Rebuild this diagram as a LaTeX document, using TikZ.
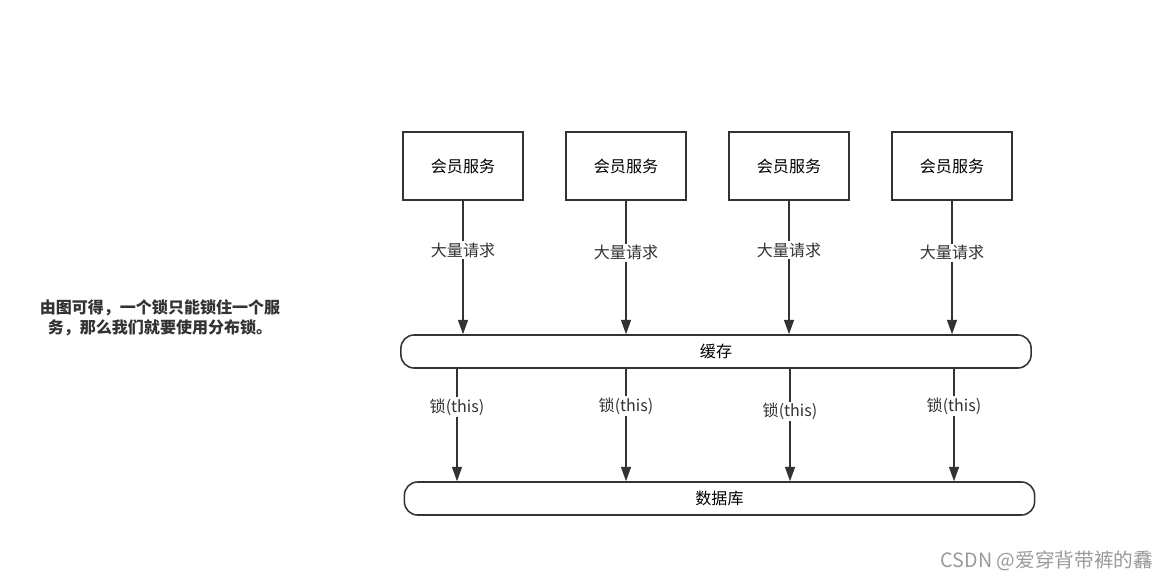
\documentclass[tikz,border=0pt]{standalone}
\usepackage{fontspec}
\setmainfont{Noto Sans CJK SC}
\usepackage{tikz}
\usetikzlibrary{arrows.meta}
\definecolor{ln}{HTML}{333333}
\definecolor{wm}{HTML}{9A9A9A}

\begin{document}
\begin{tikzpicture}[x=0.025cm,y=-0.025cm,
    box/.style={draw=ln,line width=1.1pt,minimum width=3cm,minimum height=1.7cm,inner sep=0pt},
    bar/.style={draw=ln,line width=1.1pt,rounded corners=0.33cm,minimum width=15.75cm,minimum height=0.825cm,inner sep=0pt},
    lbl/.style={fill=white,inner sep=1pt,text=ln},
    arr/.style={draw=ln,line width=1pt,-{Triangle[length=0.36cm,width=0.25cm]}}]
    \useasboundingbox(0,0)rectangle(1168,581);
    \fontsize{11.4}{14}\selectfont
    % services
    \node[box](srv1)at(463,166){会员服务};
    \node[box](srv2)at(626,166){会员服务};
    \node[box](srv3)at(789,166){会员服务};
    \node[box](srv4)at(952,166){会员服务};
    \node[bar](cache)at(716,351.5){缓存};
    \node[bar](db)at(719.5,498.5){数据库};
    % requests
    \draw[arr](srv1.south)--(srv1.south|-cache.north)node[lbl,pos=0.37]{大量请求};
    \draw[arr](srv2.south)--(srv2.south|-cache.north)node[lbl,pos=0.39]{大量请求};
    \draw[arr](srv3.south)--(srv3.south|-cache.north)node[lbl,pos=0.37]{大量请求};
    \draw[arr](srv4.south)--(srv4.south|-cache.north)node[lbl,pos=0.39]{大量请求};
    % locks
    \coordinate(k1)at(457,0);
    \coordinate(k2)at(626,0);
    \coordinate(k3)at(790,0);
    \coordinate(k4)at(954,0);
    \draw[arr](cache.south-|k1)--(db.north-|k1)node[lbl,pos=0.34]{锁(this)};
    \draw[arr](cache.south-|k2)--(db.north-|k2)node[lbl,pos=0.33]{锁(this)};
    \draw[arr](cache.south-|k3)--(db.north-|k3)node[lbl,pos=0.38]{锁(this)};
    \draw[arr](cache.south-|k4)--(db.north-|k4)node[lbl,pos=0.33]{锁(this)};
    % note
    \node[align=center,font=\bfseries,text=ln](note)at(160,318){由图可得，一个锁只能锁住一个服\\务，那么我们就要使用分布锁。};
    \node[text=wm,font=\fontsize{14}{16}\selectfont](mark)at(1047,561){CSDN @爱穿背带裤的馫};
\end{tikzpicture}
\end{document}
